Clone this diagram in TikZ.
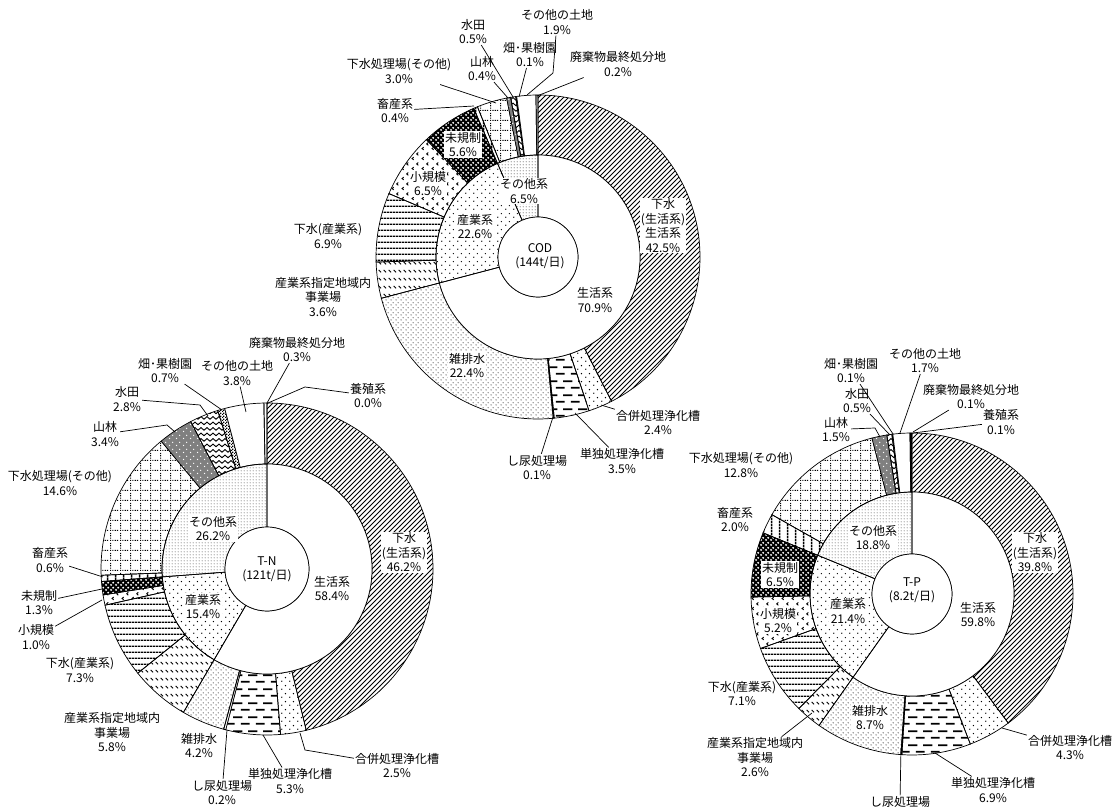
\documentclass[tikz,border=0pt]{standalone}
\usepackage{fontspec}
\setmainfont{Noto Sans CJK JP}
\usetikzlibrary{patterns}

% ---------- patterns ----------
\pgfdeclarepatternformonly{pdiag}{\pgfqpoint{-1pt}{-1pt}}{\pgfqpoint{6pt}{6pt}}{\pgfqpoint{5pt}{5pt}}{%
  \pgfsetlinewidth{0.9pt}\pgfpathmoveto{\pgfqpoint{0pt}{0pt}}\pgfpathlineto{\pgfqpoint{5.1pt}{5.1pt}}\pgfusepath{stroke}}
\pgfdeclarepatternformonly{psparse}{\pgfqpoint{0pt}{0pt}}{\pgfqpoint{8pt}{8pt}}{\pgfqpoint{8pt}{8pt}}{%
  \pgfpathcircle{\pgfqpoint{2pt}{2pt}}{0.8pt}\pgfpathcircle{\pgfqpoint{6pt}{6pt}}{0.8pt}\pgfusepath{fill}}
\pgfdeclarepatternformonly{pdense}{\pgfqpoint{0pt}{0pt}}{\pgfqpoint{5pt}{5pt}}{\pgfqpoint{5pt}{5pt}}{%
  \pgfpathcircle{\pgfqpoint{1.25pt}{1.25pt}}{0.6pt}\pgfpathcircle{\pgfqpoint{3.75pt}{3.75pt}}{0.6pt}\pgfusepath{fill}}
\pgfdeclarepatternformonly{pfine}{\pgfqpoint{0pt}{0pt}}{\pgfqpoint{3pt}{3pt}}{\pgfqpoint{3pt}{3pt}}{%
  \pgfpathcircle{\pgfqpoint{1.5pt}{1.5pt}}{0.6pt}\pgfusepath{fill}}
\pgfdeclarepatternformonly{pdash}{\pgfqpoint{0pt}{0pt}}{\pgfqpoint{15pt}{14pt}}{\pgfqpoint{15pt}{14pt}}{%
  \pgfpathrectangle{\pgfqpoint{1pt}{2.5pt}}{\pgfqpoint{9pt}{1.8pt}}%
  \pgfpathrectangle{\pgfqpoint{8.5pt}{9.5pt}}{\pgfqpoint{9pt}{1.8pt}}%
  \pgfpathrectangle{\pgfqpoint{-6.5pt}{9.5pt}}{\pgfqpoint{9pt}{1.8pt}}\pgfusepath{fill}}
\pgfdeclarepatternformonly{pbslash}{\pgfqpoint{0pt}{0pt}}{\pgfqpoint{4.5pt}{8pt}}{\pgfqpoint{4.5pt}{8pt}}{%
  \pgfsetlinewidth{1pt}\pgfpathmoveto{\pgfqpoint{0.8pt}{5.6pt}}\pgfpathlineto{\pgfqpoint{3.4pt}{3pt}}\pgfusepath{stroke}}
\pgfdeclarepatternformonly{phlines}{\pgfqpoint{0pt}{0pt}}{\pgfqpoint{3pt}{6.3pt}}{\pgfqpoint{3pt}{6.3pt}}{%
  \pgfsetlinewidth{1.3pt}\pgfpathmoveto{\pgfqpoint{-0.1pt}{3pt}}\pgfpathlineto{\pgfqpoint{3.1pt}{3pt}}\pgfusepath{stroke}}
\pgfdeclarepatternformonly{pvlines}{\pgfqpoint{0pt}{0pt}}{\pgfqpoint{8pt}{3pt}}{\pgfqpoint{8pt}{3pt}}{%
  \pgfsetlinewidth{1.5pt}\pgfpathmoveto{\pgfqpoint{4pt}{-0.1pt}}\pgfpathlineto{\pgfqpoint{4pt}{3.1pt}}\pgfusepath{stroke}}
\pgfdeclarepatternformonly{pchev}{\pgfqpoint{0pt}{0pt}}{\pgfqpoint{10pt}{10pt}}{\pgfqpoint{10pt}{10pt}}{%
  \pgfsetlinewidth{1pt}%
  \pgfpathmoveto{\pgfqpoint{4pt}{4.2pt}}\pgfpathlineto{\pgfqpoint{2.3pt}{2.7pt}}\pgfpathlineto{\pgfqpoint{4pt}{1.2pt}}%
  \pgfpathmoveto{\pgfqpoint{9pt}{9.2pt}}\pgfpathlineto{\pgfqpoint{7.3pt}{7.7pt}}\pgfpathlineto{\pgfqpoint{9pt}{6.2pt}}%
  \pgfusepath{stroke}}
\pgfdeclarepatternformonly{pholes}{\pgfqpoint{0pt}{0pt}}{\pgfqpoint{5pt}{5pt}}{\pgfqpoint{5pt}{5pt}}{%
  \pgfpathcircle{\pgfqpoint{1.25pt}{1.25pt}}{1.25pt}\pgfpathcircle{\pgfqpoint{3.75pt}{3.75pt}}{1.25pt}\pgfusepath{fill}}
\pgfdeclarepatternformonly{pdotgrid}{\pgfqpoint{0pt}{0pt}}{\pgfqpoint{10pt}{10pt}}{\pgfqpoint{10pt}{10pt}}{%
  \pgfpathrectangle{\pgfqpoint{0pt}{0pt}}{\pgfqpoint{1.3pt}{1.3pt}}%
  \pgfpathrectangle{\pgfqpoint{2.5pt}{0pt}}{\pgfqpoint{1.3pt}{1.3pt}}%
  \pgfpathrectangle{\pgfqpoint{5pt}{0pt}}{\pgfqpoint{1.3pt}{1.3pt}}%
  \pgfpathrectangle{\pgfqpoint{7.5pt}{0pt}}{\pgfqpoint{1.3pt}{1.3pt}}%
  \pgfpathrectangle{\pgfqpoint{0pt}{2.5pt}}{\pgfqpoint{1.3pt}{1.3pt}}%
  \pgfpathrectangle{\pgfqpoint{0pt}{5pt}}{\pgfqpoint{1.3pt}{1.3pt}}%
  \pgfpathrectangle{\pgfqpoint{0pt}{7.5pt}}{\pgfqpoint{1.3pt}{1.3pt}}\pgfusepath{fill}}
\pgfdeclarepatternformonly{pwave}{\pgfqpoint{-1pt}{0pt}}{\pgfqpoint{7pt}{5.5pt}}{\pgfqpoint{6pt}{5.5pt}}{%
  \pgfsetlinewidth{0.9pt}\pgfsetroundjoin
  \pgfpathmoveto{\pgfqpoint{0pt}{1.2pt}}\pgfpathlineto{\pgfqpoint{3pt}{4pt}}\pgfpathlineto{\pgfqpoint{6pt}{1.2pt}}\pgfusepath{stroke}}
\pgfdeclarepatternformonly{pmidots}{\pgfqpoint{0pt}{0pt}}{\pgfqpoint{7pt}{7pt}}{\pgfqpoint{7pt}{7pt}}{%
  \pgfpathcircle{\pgfqpoint{1.75pt}{1.75pt}}{0.8pt}\pgfpathcircle{\pgfqpoint{5.25pt}{5.25pt}}{0.8pt}\pgfusepath{fill}}
\pgfdeclarepatternformonly{psmallcheck}{\pgfqpoint{0pt}{0pt}}{\pgfqpoint{3pt}{3pt}}{\pgfqpoint{3pt}{3pt}}{%
  \pgfpathrectangle{\pgfqpoint{0pt}{0pt}}{\pgfqpoint{1.5pt}{1.5pt}}%
  \pgfpathrectangle{\pgfqpoint{1.5pt}{1.5pt}}{\pgfqpoint{1.5pt}{1.5pt}}\pgfusepath{fill}}

\tikzset{
  seg/.style={draw=black, line width=0.7pt},
  lbl/.style={align=center, inner sep=1pt, font=\fontsize{12}{14.5}\selectfont},
  wlbl/.style={lbl, fill=white},
  lead/.style={draw=black, line width=0.7pt},
  sgesui/.style={seg, pattern=pdiag},
  sgappei/.style={seg, pattern=psparse},
  standoku/.style={seg, pattern=pdash},
  sshinyo/.style={seg, fill=white},
  szatsu/.style={seg, pattern=pdense},
  sshitei/.style={seg, pattern=pbslash},
  sgsangyo/.style={seg, pattern=phlines},
  sshoki/.style={seg, pattern=pchev},
  smiki/.style={seg, preaction={fill=black}, pattern=pholes, pattern color=white},
  schiku/.style={seg, pattern=pvlines},
  sgsono/.style={seg, pattern=pdotgrid},
  ssanrin/.style={seg, preaction={fill=black!50}, pattern=pmidots, pattern color=white},
  ssuiden/.style={seg, pattern=pwave},
  shatake/.style={seg, pattern=psmallcheck},
  ssonota/.style={seg, fill=white},
  shaiki/.style={seg, pattern=pvlines},
  syoshoku/.style={seg, fill=white},
  sin1/.style={seg, fill=white},
  sin2/.style={seg, pattern=psparse},
  sin3/.style={seg, pattern=pfine},
  hub/.style={seg, fill=white}
}

% #1 centre, #2 inner radius, #3 outer radius, #4 start %, #5 end %, #6 style
\newcommand{\dseg}[6]{\path[#6] ([shift={({90-3.6*(#4)}:#3)}]#1)
  arc[start angle={90-3.6*(#4)}, end angle={90-3.6*(#5)}, radius=#3]
  -- ([shift={({90-3.6*(#5)}:#2)}]#1)
  arc[start angle={90-3.6*(#5)}, end angle={90-3.6*(#4)}, radius=#2] -- cycle;}

\begin{document}
\begin{tikzpicture}[x=1pt,y=1pt]
\useasboundingbox (0,0) rectangle (1114,811);
\coordinate (cod) at (538,554);
\coordinate (tn) at (267,242);
\coordinate (tp) at (912,217);

% ================= COD =================
\dseg{cod}{102}{162}{0}{42.5}{sgesui}
\dseg{cod}{102}{162}{42.5}{44.9}{sgappei}
\dseg{cod}{102}{162}{44.9}{48.4}{standoku}
\dseg{cod}{102}{162}{48.4}{48.5}{sshinyo}
\dseg{cod}{102}{162}{48.5}{70.9}{szatsu}
\dseg{cod}{102}{162}{70.9}{74.5}{sshitei}
\dseg{cod}{102}{162}{74.5}{81.4}{sgsangyo}
\dseg{cod}{102}{162}{81.4}{87.9}{sshoki}
\dseg{cod}{102}{162}{87.9}{93.5}{smiki}
\dseg{cod}{102}{162}{93.5}{93.9}{schiku}
\dseg{cod}{102}{162}{93.9}{96.9}{sgsono}
\dseg{cod}{102}{162}{96.9}{97.3}{ssanrin}
\dseg{cod}{102}{162}{97.3}{97.8}{ssuiden}
\dseg{cod}{102}{162}{97.8}{97.9}{shatake}
\dseg{cod}{102}{162}{97.9}{99.8}{ssonota}
\dseg{cod}{102}{162}{99.8}{100}{shaiki}
\dseg{cod}{40}{102}{0}{70.9}{sin1}
\dseg{cod}{40}{102}{70.9}{93.5}{sin2}
\dseg{cod}{40}{102}{93.5}{100}{sin3}
\draw[hub] (cod) circle[radius=40];

% ================= T-N =================
\dseg{tn}{105}{166}{0}{46.2}{sgesui}
\dseg{tn}{105}{166}{46.2}{48.7}{sgappei}
\dseg{tn}{105}{166}{48.7}{54.0}{standoku}
\dseg{tn}{105}{166}{54.0}{54.2}{sshinyo}
\dseg{tn}{105}{166}{54.2}{58.4}{szatsu}
\dseg{tn}{105}{166}{58.4}{64.2}{sshitei}
\dseg{tn}{105}{166}{64.2}{71.5}{sgsangyo}
\dseg{tn}{105}{166}{71.5}{72.5}{sshoki}
\dseg{tn}{105}{166}{72.5}{73.8}{smiki}
\dseg{tn}{105}{166}{73.8}{74.4}{schiku}
\dseg{tn}{105}{166}{74.4}{89.0}{sgsono}
\dseg{tn}{105}{166}{89.0}{92.4}{ssanrin}
\dseg{tn}{105}{166}{92.4}{95.2}{ssuiden}
\dseg{tn}{105}{166}{95.2}{95.9}{shatake}
\dseg{tn}{105}{166}{95.9}{99.7}{ssonota}
\dseg{tn}{105}{166}{99.7}{100}{shaiki}
\dseg{tn}{42}{105}{0}{58.4}{sin1}
\dseg{tn}{42}{105}{58.4}{73.8}{sin2}
\dseg{tn}{42}{105}{73.8}{100}{sin3}
\draw[hub] (tn) circle[radius=42];

% ================= T-P =================
\dseg{tp}{102}{161}{0}{39.8}{sgesui}
\dseg{tp}{102}{161}{39.8}{44.1}{sgappei}
\dseg{tp}{102}{161}{44.1}{51.0}{standoku}
\dseg{tp}{102}{161}{51.0}{51.1}{sshinyo}
\dseg{tp}{102}{161}{51.1}{59.8}{szatsu}
\dseg{tp}{102}{161}{59.8}{62.4}{sshitei}
\dseg{tp}{102}{161}{62.4}{69.5}{sgsangyo}
\dseg{tp}{102}{161}{69.5}{74.7}{sshoki}
\dseg{tp}{102}{161}{74.7}{81.2}{smiki}
\dseg{tp}{102}{161}{81.2}{83.2}{schiku}
\dseg{tp}{102}{161}{83.2}{96.0}{sgsono}
\dseg{tp}{102}{161}{96.0}{97.5}{ssanrin}
\dseg{tp}{102}{161}{97.5}{98.0}{ssuiden}
\dseg{tp}{102}{161}{98.0}{98.1}{shatake}
\dseg{tp}{102}{161}{98.1}{99.8}{ssonota}
\dseg{tp}{102}{161}{99.8}{99.9}{shaiki}
\dseg{tp}{102}{161}{99.9}{100}{syoshoku}
\dseg{tp}{40}{102}{0}{59.8}{sin1}
\dseg{tp}{40}{102}{59.8}{81.2}{sin2}
\dseg{tp}{40}{102}{81.2}{100}{sin3}
\draw[hub] (tp) circle[radius=40];

% ================= labels COD =================
\node[wlbl] (cod-gesui) at (663,585.5) {下水\\(生活系)\\生活系\\42.5\%};
\node[lbl] (cod-gappei) at (658,388.5) {合併処理浄化槽\\2.4\%};
\node[lbl] (cod-tandoku) at (622,350) {単独処理浄化槽\\3.5\%};
\node[lbl] (cod-shinyo) at (537,343.5) {し尿処理場\\0.1\%};
\node[wlbl] (cod-zatsu) at (467,445.5) {雑排水\\22.4\%};
\node[lbl] (cod-shitei) at (323,514) {産業系指定地域内\\事業場\\3.6\%};
\node[lbl] (cod-gsangyo) at (328,575) {下水(産業系)\\6.9\%};
\node[wlbl] (cod-shoki) at (428,627.5) {小規模\\6.5\%};
\node[wlbl] (cod-miki) at (463,666.5) {未規制\\5.6\%};
\node[lbl] (cod-chiku) at (395,700.5) {畜産系\\0.4\%};
\node[lbl] (cod-gsono) at (399,740) {下水処理場(その他)\\3.0\%};
\node[lbl] (cod-sanrin) at (482,742.5) {山林\\0.4\%};
\node[lbl] (cod-suiden) at (473,779.5) {水田\\0.5\%};
\node[lbl] (cod-hatake) at (530,756.5) {畑･果樹園\\0.1\%};
\node[lbl] (cod-sonota) at (557,789) {その他の土地\\1.9\%};
\node[lbl] (cod-haiki) at (618,747) {廃棄物最終処分地\\0.2\%};
\node[lbl] (cod-in-sei) at (595,511) {生活系\\70.9\%};
\node[wlbl] (cod-in-san) at (475,584.5) {産業系\\22.6\%};
\node[wlbl] (cod-in-so) at (524,620) {その他系\\6.5\%};
\node[lbl] (cod-title) at (540,555) {COD\\(144t/日)};

\coordinate (cod-suiden-p) at (513,714);
\coordinate (cod-sanrin-p) at (508,713);
\coordinate (cod-hatake-p) at (519,714);
\coordinate (cod-sonota-b) at (553,738);
\coordinate (cod-sonota-p) at (527,716);
\coordinate (cod-haiki-p) at (537,715);
\coordinate (cod-gsono-p) at (496,708);
\coordinate (cod-chiku-p) at (474,705);
\coordinate (cod-gappei-p) at (601,406);
\coordinate (cod-tandoku-p) at (575,398);
\coordinate (cod-shinyo-p) at (553,394);
\draw[lead] (cod-suiden) -- (cod-suiden-p);
\draw[lead] (cod-sanrin) -- (cod-sanrin-p);
\draw[lead] (cod-hatake) -- (cod-hatake-p);
\draw[lead] (cod-sonota) -- (cod-sonota-b) -- (cod-sonota-p);
\draw[lead] (cod-haiki) -- (cod-haiki-p);
\draw[lead] (cod-gsono) -- (cod-gsono-p);
\draw[lead] (cod-chiku) -- (cod-chiku-p);
\draw[lead] (cod-gappei) -- (cod-gappei-p);
\draw[lead] (cod-tandoku) -- (cod-tandoku-p);
\draw[lead] (cod-shinyo) -- (cod-shinyo-p);

% ================= labels T-N =================
\node[wlbl] (tn-gesui) at (404,258.5) {下水\\(生活系)\\46.2\%};
\node[lbl] (tn-gappei) at (397,45.5) {合併処理浄化槽\\2.5\%};
\node[lbl] (tn-tandoku) at (290,30) {単独処理浄化槽\\5.3\%};
\node[lbl] (tn-shinyo) at (222,18.5) {し尿処理場\\0.2\%};
\node[lbl] (tn-zatsu) at (199,65.5) {雑排水\\4.2\%};
\node[lbl] (tn-shitei) at (112,78.5) {産業系指定地域内\\事業場\\5.8\%};
\node[lbl] (tn-gsangyo) at (80,141) {下水(産業系)\\7.3\%};
\node[lbl] (tn-shoki) at (36,174) {小規模\\1.0\%};
\node[lbl] (tn-miki) at (39,208.5) {未規制\\1.3\%};
\node[lbl] (tn-chiku) at (50,251) {畜産系\\0.6\%};
\node[lbl] (tn-gsono) at (60,328) {下水処理場(その他)\\14.6\%};
\node[lbl] (tn-sanrin) at (105,377) {山林\\3.4\%};
\node[lbl] (tn-suiden) at (127,412) {水田\\2.8\%};
\node[lbl] (tn-hatake) at (165,440.5) {畑･果樹園\\0.7\%};
\node[lbl] (tn-sonota) at (237,438) {その他の土地\\3.8\%};
\node[lbl] (tn-haiki) at (297,461.5) {廃棄物最終処分地\\0.3\%};
\node[lbl] (tn-yoshoku) at (368,415.5) {養殖系\\0.0\%};
\node[lbl] (tn-in-sei) at (332,222.5) {生活系\\58.4\%};
\node[wlbl] (tn-in-san) at (203,204.5) {産業系\\15.4\%};
\node[wlbl] (tn-in-so) at (213,282.5) {その他系\\26.2\%};
\node[lbl] (tn-title) at (267,241.5) {T-N\\(121t/日)};

\coordinate (tn-haiki-p) at (267,408);
\coordinate (tn-yoshoku-b) at (305,424);
\coordinate (tn-yoshoku-p) at (268,408);
\coordinate (tn-sonota-p) at (246,399);
\coordinate (tn-hatake-p) at (222,401);
\coordinate (tn-suiden-b) at (200,406);
\coordinate (tn-suiden-p) at (208,395);
\coordinate (tn-sanrin-b) at (167,386);
\coordinate (tn-sanrin-p) at (175,379);
\coordinate (tn-chiku-p) at (103,234);
\coordinate (tn-miki-p) at (102,222);
\coordinate (tn-shoki-p) at (102,211);
\coordinate (tn-shinyo-p) at (227,81);
\coordinate (tn-tandoku-p) at (263,76);
\coordinate (tn-gappei-b) at (305,61);
\coordinate (tn-gappei-p) at (300,78);
\draw[lead] (tn-haiki) -- (tn-haiki-p);
\draw[lead] (tn-yoshoku) -- (tn-yoshoku-b) -- (tn-yoshoku-p);
\draw[lead] (tn-sonota) -- (tn-sonota-p);
\draw[lead] (tn-hatake) -- (tn-hatake-p);
\draw[lead] (tn-suiden) -- (tn-suiden-b) -- (tn-suiden-p);
\draw[lead] (tn-sanrin) -- (tn-sanrin-b) -- (tn-sanrin-p);
\draw[lead] (tn-chiku) -- (tn-chiku-p);
\draw[lead] (tn-miki) -- (tn-miki-p);
\draw[lead] (tn-shoki) -- (tn-shoki-p);
\draw[lead] (tn-shinyo) -- (tn-shinyo-p);
\draw[lead] (tn-tandoku) -- (tn-tandoku-p);
\draw[lead] (tn-gappei) -- (tn-gappei-b) -- (tn-gappei-p);

% ================= labels T-P =================
\node[wlbl] (tp-gesui) at (1035,258.5) {下水\\(生活系)\\39.8\%};
\node[lbl] (tp-gappei) at (1070,63.5) {合併処理浄化槽\\4.3\%};
\node[lbl] (tp-tandoku) at (993,21) {単独処理浄化槽\\6.9\%};
\node[lbl] (tp-shinyo) at (900,9) {し尿処理場};
\node[wlbl] (tp-zatsu) at (870,93.5) {雑排水\\8.7\%};
\node[lbl] (tp-shitei) at (755,53.5) {産業系指定地域内\\事業場\\2.6\%};
\node[lbl] (tp-gsangyo) at (742,117.5) {下水(産業系)\\7.1\%};
\node[wlbl] (tp-shoki) at (778,190.5) {小規模\\5.2\%};
\node[wlbl] (tp-miki) at (780,236.5) {未規制\\6.5\%};
\node[lbl] (tp-chiku) at (735,291.5) {畜産系\\2.0\%};
\node[lbl] (tp-gsono) at (741,346) {下水処理場(その他)\\12.8\%};
\node[lbl] (tp-sanrin) at (836,381.5) {山林\\1.5\%};
\node[lbl] (tp-suiden) at (857,410.5) {水田\\0.5\%};
\node[lbl] (tp-hatake) at (851,440.5) {畑･果樹園\\0.1\%};
\node[lbl] (tp-sonota) at (925,450.5) {その他の土地\\1.7\%};
\node[lbl] (tp-haiki) at (971,414.5) {廃棄物最終処分地\\0.1\%};
\node[lbl] (tp-yoshoku) at (1001,389) {養殖系\\0.1\%};
\node[lbl] (tp-in-sei) at (978,196.5) {生活系\\59.8\%};
\node[wlbl] (tp-in-san) at (848,200) {産業系\\21.4\%};
\node[wlbl] (tp-in-so) at (873,273.5) {その他系\\18.8\%};
\node[lbl] (tp-title) at (912,220.5) {T-P\\(8.2t/日)};

\coordinate (tp-sanrin-b) at (875,383);
\coordinate (tp-sanrin-p) at (880,374);
\coordinate (tp-suiden-p) at (890,376);
\coordinate (tp-hatake-p) at (893,377);
\coordinate (tp-sonota-p) at (900,378);
\coordinate (tp-haiki-p) at (913,379);
\coordinate (tp-yoshoku-p) at (913,378);
\coordinate (tp-shitei-p) at (812,98);
\coordinate (tp-shinyo-p) at (901,63);
\coordinate (tp-tandoku-p) at (935,58);
\coordinate (tp-gappei-p) at (1002,83);
\draw[lead] (tp-sanrin) -- (tp-sanrin-b) -- (tp-sanrin-p);
\draw[lead] (tp-suiden) -- (tp-suiden-p);
\draw[lead] (tp-hatake) -- (tp-hatake-p);
\draw[lead] (tp-sonota) -- (tp-sonota-p);
\draw[lead] (tp-haiki) -- (tp-haiki-p);
\draw[lead] (tp-yoshoku) -- (tp-yoshoku-p);
\draw[lead] (tp-shitei) -- (tp-shitei-p);
\draw[lead] (tp-shinyo) -- (tp-shinyo-p);
\draw[lead] (tp-tandoku) -- (tp-tandoku-p);
\draw[lead] (tp-gappei) -- (tp-gappei-p);
\end{tikzpicture}
\end{document}
